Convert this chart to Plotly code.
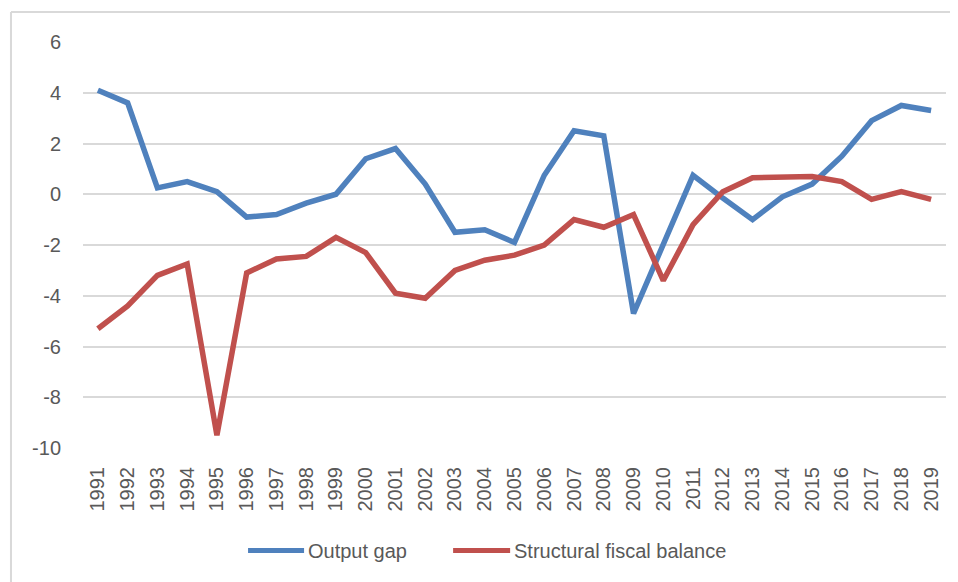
import plotly.graph_objects as go

years = [str(y) for y in range(1991, 2020)]

output_gap = [4.1, 3.6, 0.25, 0.5, 0.1, -0.9, -0.8, -0.35, 0.0, 1.4,
              1.8, 0.4, -1.5, -1.4, -1.9, 0.75, 2.5, 2.3, -4.7, -2.0,
              0.75, -0.15, -1.0, -0.1, 0.4, 1.5, 2.9, 3.5, 3.3]

structural_balance = [-5.3, -4.4, -3.2, -2.75, -9.5, -3.1, -2.55, -2.45, -1.7, -2.3,
                      -3.9, -4.1, -3.0, -2.6, -2.4, -2.0, -1.0, -1.3, -0.8, -3.4,
                      -1.2, 0.1, 0.65, 0.65, 0.7, 0.5, -0.2, 0.1, -0.2]

y_ticks = [-10, -8, -6, -4, -2, 0, 2, 4, 6]
y_tick_text = ["-10", "-8", "-6", "-4", "-2", "0", "2", "4", "6"]

series_names = ["Output gap", "Structural fiscal balance"]
colors = ["#4F81BD", "#C0504D"]

# the page body has an 8px margin, so the figure is a bit smaller than the window
W, H = 950, 574
ML, MT = 75, 34
pw, ph = 862.75, 405.6
MR = W - ML - pw
MB = H - MT - ph

def px_x(x):
    # page pixel -> paper x
    return (x - 8 - ML) / pw

def px_y(y):
    # page pixel -> paper y
    return (MT + ph - (y - 8)) / ph

fig = go.Figure()
for name, vals, col in zip(series_names, [output_gap, structural_balance], colors):
    fig.add_trace(go.Scatter(x=years, y=vals, mode="lines", name=name,
                             line=dict(color=col, width=5.5)))

# outer chart border (top-left corner visible in the screenshot)
fig.add_shape(type="line", xref="paper", yref="paper", x0=px_x(11), x1=1.2,
              y0=px_y(12), y1=px_y(12), line=dict(color="#d9d9d9", width=2))
fig.add_shape(type="line", xref="paper", yref="paper", x0=px_x(11), x1=px_x(11),
              y0=px_y(12), y1=-0.6, line=dict(color="#d9d9d9", width=2))

# legend drawn by hand to get the long Excel-style line samples
leg_y = px_y(550)
for (x0, x1, tx), name, col in zip([(248, 304, 306), (453, 510, 512)], series_names, colors):
    fig.add_shape(type="line", xref="paper", yref="paper", x0=px_x(x0), x1=px_x(x1),
                  y0=leg_y, y1=leg_y, line=dict(color=col, width=5))
    fig.add_annotation(xref="paper", yref="paper", x=px_x(tx), y=leg_y, text=name,
                       showarrow=False, xanchor="left", yanchor="middle",
                       font=dict(size=20, color="#595959"))

fig.update_layout(
    width=W, height=H,
    margin=dict(l=ML, r=MR, t=MT, b=MB, autoexpand=False),
    plot_bgcolor="white", paper_bgcolor="white",
    font=dict(family="Liberation Sans", size=20, color="#595959"),
    showlegend=False,
    xaxis=dict(type="category", tickangle=-90, showgrid=False, showline=False,
               range=[-0.5, 28.5], ticklabelstandoff=14),
    yaxis=dict(range=[-10, 6], tickvals=y_ticks, ticktext=y_tick_text,
               showgrid=True, gridcolor="#d9d9d9", gridwidth=2,
               zeroline=False, showline=False, ticklabelstandoff=21),
)

fig.write_html("out.html")
